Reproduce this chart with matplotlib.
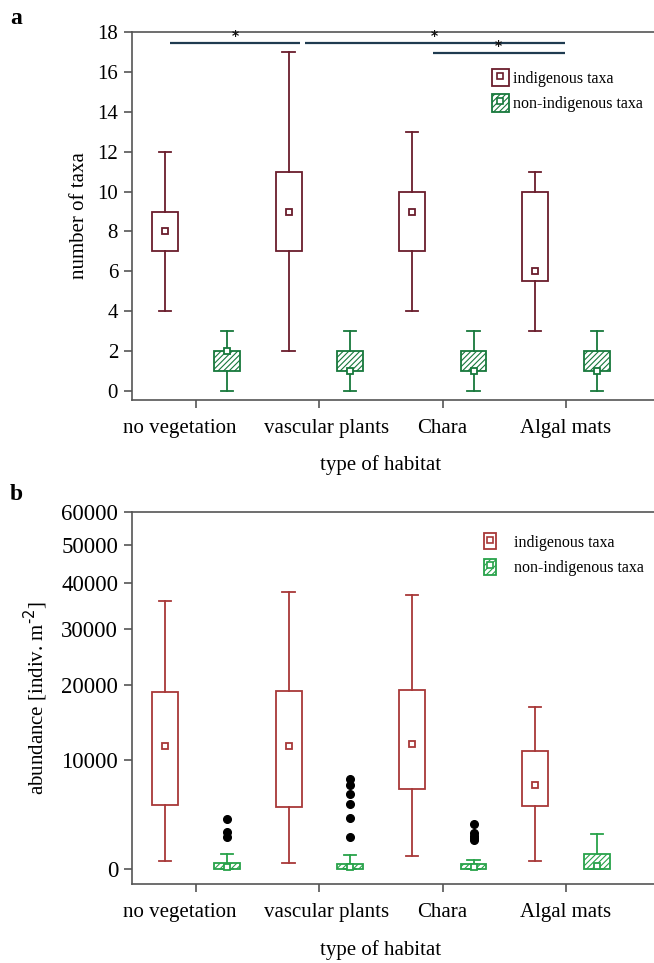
import matplotlib
matplotlib.use("Agg")
import matplotlib.pyplot as plt
import matplotlib.transforms as mtransforms
import numpy as np
from matplotlib.patches import Patch
from matplotlib.lines import Line2D

plt.rcParams['font.family'] = ['Liberation Serif', 'DejaVu Serif']
plt.rcParams['hatch.linewidth'] = 0.8

habitats = ["no vegetation", "vascular plants", "Chara", "Algal mats"]

# Panel a: number of taxa  (whisker low, q1, q3, whisker high, mean marker)
a_ind_low = [4, 2, 4, 3]
a_ind_q1 = [7, 7, 7, 5.5]
a_ind_q3 = [9, 11, 10, 10]
a_ind_high = [12, 17, 13, 11]
a_ind_mean = [8, 9, 9, 6]

a_non_low = [0, 0, 0, 0]
a_non_q1 = [1, 1, 1, 1]
a_non_q3 = [2, 2, 2, 2]
a_non_high = [3, 3, 3, 3]
a_non_mean = [2, 1, 1, 1]

# Panel b: abundance
b_ind_low = [590, 440, 960, 560]
b_ind_q1 = [5300, 5100, 6850, 5150]
b_ind_q3 = [18900, 19050, 19200, 10950]
b_ind_high = [35800, 37900, 37200, 16800]
b_ind_mean = [11650, 11650, 11900, 7200]

b_non_low = [0, 0, 0, 0]
b_non_q1 = [0, 0, 0, 20]
b_non_q3 = [440, 370, 390, 1120]
b_non_high = [1120, 1040, 660, 2670]
b_non_mean = [140, 120, 120, 220]
b_non_outliers = [[4020, 2890, 2470],
                  [7880, 7250, 6340, 5370, 4050, 2470],
                  [3520, 2780, 2560, 2390, 2230],
                  []]

sig_a = [(-0.21, 0.84, 17.45), (0.88, 2.99, 17.45), (1.92, 2.99, 16.95)]

C_OFF = 17000.0

def fwd(v):
    return np.log((np.asarray(v, float) + C_OFF) / C_OFF)

def inv(u):
    return C_OFF * (np.exp(u) - 1)

fig = plt.figure(figsize=(6.54, 9.63), dpi=100)
ax1 = fig.add_axes([132/654, 1-400/963, 1-132/654, (400-32)/963])
ax2 = fig.add_axes([132/654, 1-884/963, 1-132/654, (884-512)/963])

x = np.arange(len(habitats))
off = 0.25
width = 0.21
label_shift_px = [-16, 7, 0, 0]

def make_stats(low, q1, q3, high, mean, fl=None):
    stats = []
    for i in range(len(low)):
        stats.append(dict(whislo=low[i], q1=q1[i], med=mean[i], q3=q3[i],
                          whishi=high[i], fliers=(fl[i] if fl else [])))
    return stats

def draw(ax, stats_i, stats_n, mean_i, mean_n, red, green):
    ax.bxp(stats_i, positions=x - off, widths=width, showfliers=False,
           patch_artist=True,
           boxprops=dict(facecolor='white', edgecolor=red, linewidth=1.3),
           whiskerprops=dict(color=red, linewidth=1.3),
           capprops=dict(color=red, linewidth=1.3),
           medianprops=dict(linewidth=0), capwidths=0.1)
    ax.bxp(stats_n, positions=x + off, widths=width, showfliers=True,
           patch_artist=True,
           boxprops=dict(facecolor='white', edgecolor=green, linewidth=1.3, hatch='//////'),
           whiskerprops=dict(color=green, linewidth=1.3),
           capprops=dict(color=green, linewidth=1.3),
           medianprops=dict(linewidth=0), capwidths=0.1,
           flierprops=dict(marker='o', markerfacecolor='black', markeredgecolor='black', markersize=5.5))
    ax.plot(x - off, mean_i, ls='', marker='s', ms=5, mfc='white', mec=red, mew=1.3, zorder=5)
    ax.plot(x + off, mean_n, ls='', marker='s', ms=5, mfc='white', mec=green, mew=1.3, zorder=5)

def style(ax, ysize):
    for s in ['left', 'bottom', 'top']:
        ax.spines[s].set_color('#555555')
        ax.spines[s].set_linewidth(1.2)
    ax.spines['right'].set_visible(False)
    ax.set_xlim(-0.52, 3.714)
    ax.set_xticks(x)
    ax.set_xticklabels(habitats, fontsize=15)
    ax.tick_params(axis='both', direction='out', length=6, width=1.2, color='#555555', pad=8)
    ax.tick_params(axis='x', pad=8, labelsize=15)
    ax.tick_params(axis='y', pad=4, labelsize=ysize)
    for lab, dx in zip(ax.get_xticklabels(), label_shift_px):
        lab.set_transform(lab.get_transform() +
                          mtransforms.ScaledTranslation(dx / 100, 0, fig.dpi_scale_trans))
    ax.set_xlabel("type of habitat", fontsize=15)
    ax.xaxis.set_label_coords((381-132)/(654-132), -0.15)

# Panel a
RED_A = '#6a1d2c'
GREEN_A = '#17783c'
draw(ax1, make_stats(a_ind_low, a_ind_q1, a_ind_q3, a_ind_high, a_ind_mean),
     make_stats(a_non_low, a_non_q1, a_non_q3, a_non_high, a_non_mean),
     a_ind_mean, a_non_mean, RED_A, GREEN_A)
style(ax1, 15)
ax1.set_ylim(-0.45, 18)
ax1.set_yticks(np.arange(0, 19, 2))
ax1.set_ylabel("number of taxa", fontsize=15, labelpad=6)
for x0, x1, yv in sig_a:
    ax1.plot([x0, x1], [yv, yv], color='#1f3b50', lw=1.6, solid_capstyle='butt')
    ax1.text((x0 + x1) / 2, yv + 0.02, '*', ha='center', va='bottom', fontsize=10,
             color='#111111', fontweight='bold', family='DejaVu Sans')

def legend(ax, red, green, loc_xy, hl, hh, tp, sp):
    hi = (Patch(facecolor='white', edgecolor=red, linewidth=1.3),
          Line2D([], [], ls='', marker='s', ms=4, mfc='white', mec=red, mew=1.2))
    hn = (Patch(facecolor='white', edgecolor=green, linewidth=1.3, hatch='//////'),
          Line2D([], [], ls='', marker='s', ms=4, mfc='white', mec=green, mew=1.2))
    ax.legend([hi, hn], ['indigenous taxa', 'non-indigenous taxa'], frameon=False,
              fontsize=11.5, handlelength=hl, handleheight=hh, handletextpad=tp,
              labelspacing=sp, loc='upper left', bbox_to_anchor=loc_xy,
              bbox_transform=fig.transFigure, borderaxespad=0, borderpad=0)

legend(ax1, RED_A, GREEN_A, (492/654, 1-69/963), 1.05, 1.3, 0.25, 0.45)

# Panel b
RED_B = '#a83838'
GREEN_B = '#28a24a'
ax2.set_yscale('function', functions=(fwd, inv))
draw(ax2, make_stats(b_ind_low, b_ind_q1, b_ind_q3, b_ind_high, b_ind_mean),
     make_stats(b_non_low, b_non_q1, b_non_q3, b_non_high, b_non_mean, b_non_outliers),
     b_ind_mean, b_non_mean, RED_B, GREEN_B)
style(ax2, 16.5)
ax2.set_ylim(-1050, 60000)
ax2.set_yticks([0, 10000, 20000, 30000, 40000, 50000, 60000])
ax2.set_yticklabels(['0', '10000', '20000', '30000', '40000', '50000', '60000'])
ax2.minorticks_off()
ax2.set_ylabel(r"abundance [indiv. m$^{\text{-2}}$]", fontsize=15, labelpad=8)
legend(ax2, RED_B, GREEN_B, (484/654, 1-533/963), 0.75, 1.2, 1.1, 0.5)

fig.text(10/654, 1-18/963, 'a', fontsize=17, fontweight='bold', va='center', ha='left')
fig.text(10/654, 1-495/963, 'b', fontsize=17, fontweight='bold', va='center', ha='left')

fig.savefig('out.png', dpi=100)
